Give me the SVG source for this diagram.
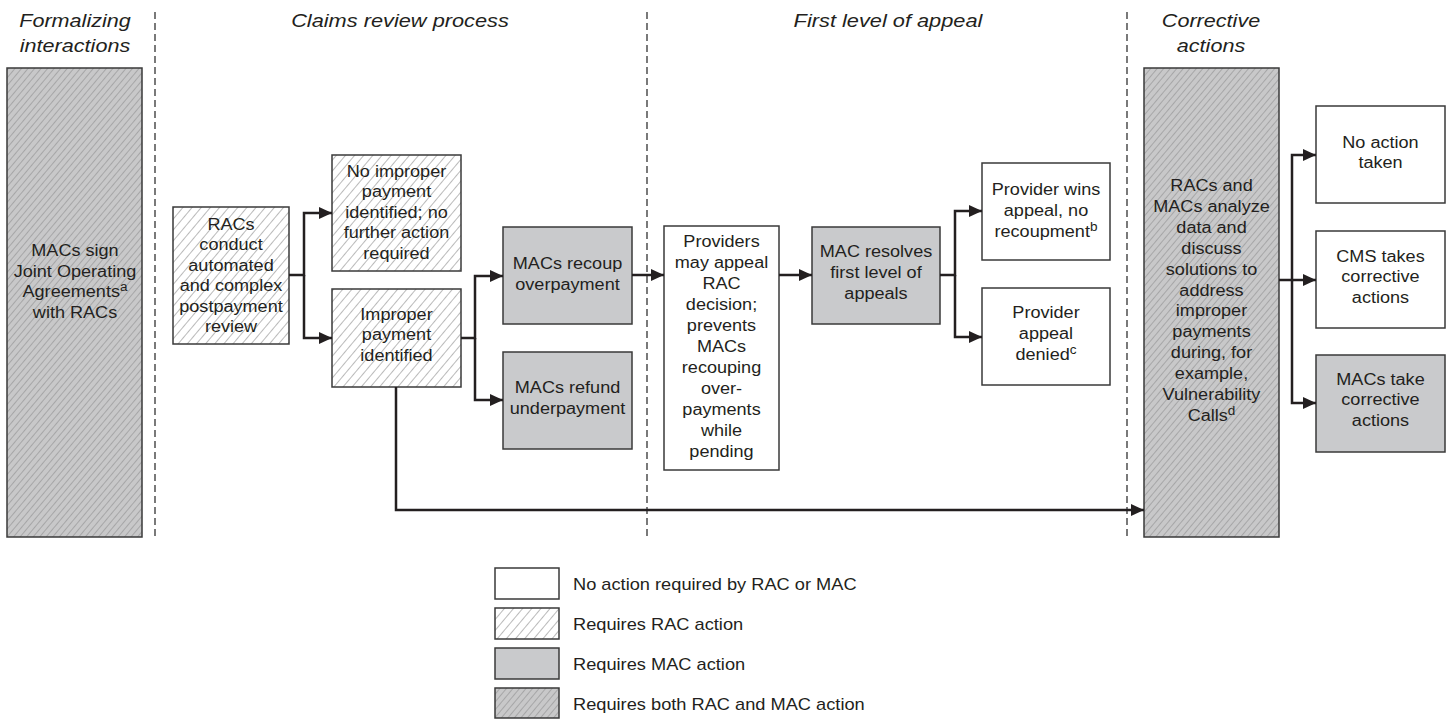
<svg xmlns="http://www.w3.org/2000/svg" width="1452" height="719" viewBox="0 0 1452 719">
<defs>
<pattern id="hRac" patternUnits="userSpaceOnUse" width="7" height="7" patternTransform="rotate(40)">
<rect width="7" height="7" fill="#ffffff"/>
<line x1="0" y1="0" x2="0" y2="7" stroke="#808080" stroke-width="1.1"/>
</pattern>
<pattern id="hBoth" patternUnits="userSpaceOnUse" width="5" height="5" patternTransform="rotate(40)">
<rect width="5" height="5" fill="#c8c8c9"/>
<line x1="0" y1="0" x2="0" y2="5" stroke="#858585" stroke-width="1"/>
</pattern>
<marker id="arr" markerUnits="userSpaceOnUse" markerWidth="14" markerHeight="13" refX="13" refY="6" orient="auto">
<path d="M0,0 L13,6 L0,12 z" fill="#231f20"/>
</marker>
<style>
.box{stroke:#3a3a3a;stroke-width:1.5}
.w{fill:#ffffff}
.rac{fill:url(#hRac)}
.mac{fill:#c9cacc}
.both{fill:url(#hBoth)}
.t{font-family:"Liberation Sans",Arial,sans-serif;font-size:16px;fill:#231f20;text-anchor:middle}
.h{font-family:"Liberation Sans",Arial,sans-serif;font-size:18px;font-style:italic;fill:#231f20;text-anchor:middle}
.lg{font-family:"Liberation Sans",Arial,sans-serif;font-size:16px;fill:#231f20}
.sup{font-size:12px}
.div{stroke:#333;stroke-width:1.3;stroke-dasharray:7 4;fill:none}
.c{stroke:#231f20;stroke-width:2.5;fill:none}
</style>
</defs>
<rect width="1452" height="719" fill="#ffffff"/>

<g id="headers">
<text class="h" transform="translate(75 0) scale(1.2 1)"><tspan x="0" y="27">Formalizing</tspan><tspan x="0" y="52">interactions</tspan></text>
<text class="h" transform="translate(400 0) scale(1.21 1)"><tspan x="0" y="27">Claims review process</tspan></text>
<text class="h" transform="translate(888 0) scale(1.21 1)"><tspan x="0" y="27">First level of appeal</tspan></text>
<text class="h" transform="translate(1211 0) scale(1.2 1)"><tspan x="0" y="27">Corrective</tspan><tspan x="0" y="52">actions</tspan></text>
</g>

<g id="dividers">
<line class="div" x1="155" y1="12" x2="155" y2="540"/>
<line class="div" x1="647" y1="12" x2="647" y2="540"/>
<line class="div" x1="1127" y1="12" x2="1127" y2="540"/>
</g>

<g id="n-joint">
<rect class="box both" x="7" y="68" width="135" height="469"/>
<text class="t" transform="translate(75 0) scale(1.13 1)"><tspan x="0" y="256">MACs sign</tspan><tspan x="0" y="277">Joint Operating</tspan><tspan x="0" y="297">Agreements<tspan class="sup" dy="-6">a</tspan></tspan><tspan x="0" y="318">with RACs</tspan></text>
</g>

<g id="n-racs">
<rect class="box rac" x="173" y="207" width="116" height="137"/>
<text class="t" transform="translate(231 0) scale(1.13 1)"><tspan x="0" y="230">RACs</tspan><tspan x="0" y="250.5">conduct</tspan><tspan x="0" y="271">automated</tspan><tspan x="0" y="291.5">and complex</tspan><tspan x="0" y="312">postpayment</tspan><tspan x="0" y="332.5">review</tspan></text>
</g>

<g id="n-noimproper">
<rect class="box rac" x="332" y="155" width="129" height="116"/>
<text class="t" transform="translate(396.5 0) scale(1.13 1)"><tspan x="0" y="177">No improper</tspan><tspan x="0" y="197.5">payment</tspan><tspan x="0" y="218">identified; no</tspan><tspan x="0" y="238.5">further action</tspan><tspan x="0" y="259">required</tspan></text>
</g>

<g id="n-improper">
<rect class="box rac" x="332" y="289" width="129" height="98"/>
<text class="t" transform="translate(396.5 0) scale(1.13 1)"><tspan x="0" y="320">Improper</tspan><tspan x="0" y="340.5">payment</tspan><tspan x="0" y="361">identified</tspan></text>
</g>

<g id="n-recoup">
<rect class="box mac" x="503" y="227" width="129" height="97"/>
<text class="t" transform="translate(567.5 0) scale(1.13 1)"><tspan x="0" y="269">MACs recoup</tspan><tspan x="0" y="290">overpayment</tspan></text>
</g>

<g id="n-refund">
<rect class="box mac" x="503" y="352" width="129" height="97"/>
<text class="t" transform="translate(567.5 0) scale(1.13 1)"><tspan x="0" y="393">MACs refund</tspan><tspan x="0" y="414">underpayment</tspan></text>
</g>

<g id="n-providers">
<rect class="box w" x="664" y="226" width="115" height="244"/>
<text class="t" transform="translate(721.5 0) scale(1.13 1)"><tspan x="0" y="247">Providers</tspan><tspan x="0" y="268">may appeal</tspan><tspan x="0" y="289">RAC</tspan><tspan x="0" y="310">decision;</tspan><tspan x="0" y="331">prevents</tspan><tspan x="0" y="352">MACs</tspan><tspan x="0" y="373">recouping</tspan><tspan x="0" y="394">over-</tspan><tspan x="0" y="415">payments</tspan><tspan x="0" y="436">while</tspan><tspan x="0" y="457">pending</tspan></text>
</g>

<g id="n-resolves">
<rect class="box mac" x="812" y="227" width="128" height="97"/>
<text class="t" transform="translate(876 0) scale(1.13 1)"><tspan x="0" y="257">MAC resolves</tspan><tspan x="0" y="278">first level of</tspan><tspan x="0" y="299">appeals</tspan></text>
</g>

<g id="n-wins">
<rect class="box w" x="982" y="163" width="128" height="97"/>
<text class="t" transform="translate(1046 0) scale(1.13 1)"><tspan x="0" y="195">Provider wins</tspan><tspan x="0" y="216">appeal, no</tspan><tspan x="0" y="237">recoupment<tspan class="sup" dy="-6">b</tspan></tspan></text>
</g>

<g id="n-denied">
<rect class="box w" x="982" y="288" width="128" height="97"/>
<text class="t" transform="translate(1046 0) scale(1.13 1)"><tspan x="0" y="318">Provider</tspan><tspan x="0" y="339">appeal</tspan><tspan x="0" y="360">denied<tspan class="sup" dy="-6">c</tspan></tspan></text>
</g>

<g id="n-corrective">
<rect class="box both" x="1144" y="68" width="135" height="469"/>
<text class="t" transform="translate(1211.5 0) scale(1.13 1)"><tspan x="0" y="191">RACs and</tspan><tspan x="0" y="212">MACs analyze</tspan><tspan x="0" y="233">data and</tspan><tspan x="0" y="254">discuss</tspan><tspan x="0" y="275">solutions to</tspan><tspan x="0" y="296">address</tspan><tspan x="0" y="316.5">improper</tspan><tspan x="0" y="337.5">payments</tspan><tspan x="0" y="358.5">during, for</tspan><tspan x="0" y="379.5">example,</tspan><tspan x="0" y="400.5">Vulnerability</tspan><tspan x="0" y="421">Calls<tspan class="sup" dy="-6">d</tspan></tspan></text>
</g>

<g id="n-noaction">
<rect class="box w" x="1316" y="106" width="129" height="97"/>
<text class="t" transform="translate(1380.5 0) scale(1.13 1)"><tspan x="0" y="148">No action</tspan><tspan x="0" y="168">taken</tspan></text>
</g>

<g id="n-cms">
<rect class="box w" x="1316" y="231" width="129" height="97"/>
<text class="t" transform="translate(1380.5 0) scale(1.13 1)"><tspan x="0" y="262">CMS takes</tspan><tspan x="0" y="282.5">corrective</tspan><tspan x="0" y="303">actions</tspan></text>
</g>

<g id="n-macstake">
<rect class="box mac" x="1316" y="355" width="129" height="97"/>
<text class="t" transform="translate(1380.5 0) scale(1.13 1)"><tspan x="0" y="385">MACs take</tspan><tspan x="0" y="405.5">corrective</tspan><tspan x="0" y="426">actions</tspan></text>
</g>

<g id="connectors">
<path class="c" d="M289,275 H304 V213 H332" marker-end="url(#arr)"/>
<path class="c" d="M304,275 V338 H332" marker-end="url(#arr)"/>
<path class="c" d="M461,338 H475 V276 H503" marker-end="url(#arr)"/>
<path class="c" d="M475,338 V400 H503" marker-end="url(#arr)"/>
<path class="c" d="M396,387 V510 H1144" marker-end="url(#arr)"/>
<path class="c" d="M632,275 H664" marker-end="url(#arr)"/>
<path class="c" d="M779,275 H812" marker-end="url(#arr)"/>
<path class="c" d="M940,275 H955 V211 H982" marker-end="url(#arr)"/>
<path class="c" d="M955,275 V337 H982" marker-end="url(#arr)"/>
<path class="c" d="M1279,280 H1292 V155 H1316" marker-end="url(#arr)"/>
<path class="c" d="M1292,280 H1316" marker-end="url(#arr)"/>
<path class="c" d="M1292,280 V403 H1316" marker-end="url(#arr)"/>
</g>

<g id="legend">
<rect class="box w" x="495" y="568" width="64" height="31"/>
<rect class="box rac" x="495" y="608" width="64" height="31"/>
<rect class="box mac" x="495" y="648" width="64" height="31"/>
<rect class="box both" x="495" y="688" width="64" height="30"/>
<text class="lg" transform="translate(573 0) scale(1.14 1)"><tspan x="0" y="590">No action required by RAC or MAC</tspan><tspan x="0" y="630">Requires RAC action</tspan><tspan x="0" y="670">Requires MAC action</tspan><tspan x="0" y="710">Requires both RAC and MAC action</tspan></text>
</g>
</svg>
